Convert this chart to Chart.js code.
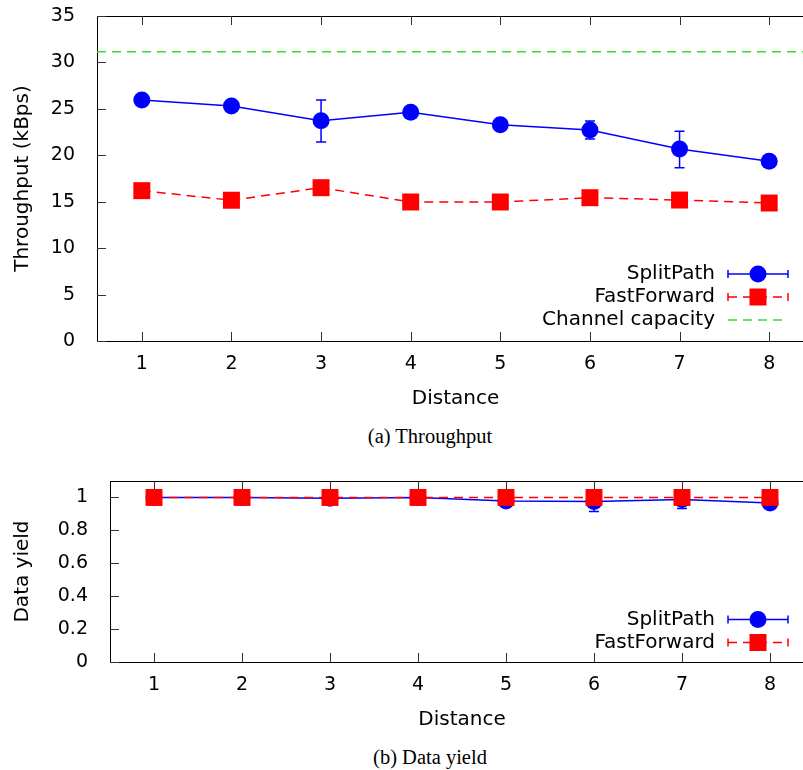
<!DOCTYPE html>
<html>
<head>
<meta charset="utf-8">
<script src="https://cdn.jsdelivr.net/npm/chart.js@4.4.1/dist/chart.umd.min.js"></script>
<style>
  html, body { margin: 0; padding: 0; background: #fff; width: 803px; height: 770px; overflow: hidden; }
  canvas { position: absolute; left: 0; }
  #tp-chart    { top: 0; width: 826px; height: 420px; }
  #yield-chart { top: 440px; width: 826px; height: 301px; }
  .caption {
    position: absolute; left: 0; width: 860px; text-align: center;
    font-family: "Liberation Serif", "Times New Roman", serif; font-size: 20.5px; color: #000;
    line-height: 24px;
  }
</style>
</head>
<body>
<canvas id="tp-chart" width="826" height="420"></canvas>
<div class="caption" style="top:424px">(a) Throughput</div>
<canvas id="yield-chart" width="826" height="301"></canvas>
<div class="caption" style="top:745px">(b) Data yield</div>

<script>
// ── Data ─────────────────────────────────────────────────────────
const DISTANCE      = [1, 2, 3, 4, 5, 6, 7, 8];
const X_MIN = 0.5, X_MAX = 8.5;

const TP_SPLIT      = [25.95, 25.3, 23.73, 24.63, 23.3, 22.72, 20.68, 19.35];
const TP_SPLIT_LO   = [25.95, 25.3, 21.43, 24.63, 23.3, 21.75, 18.66, 19.35];
const TP_SPLIT_HI   = [25.95, 25.3, 25.95, 24.63, 23.3, 23.69, 22.6, 19.35];
const TP_FAST       = [16.19, 15.16, 16.51, 14.97, 14.97, 15.43, 15.18, 14.86];
const CAPACITY      = 31.15;
const TP_TICKS      = [0, 5, 10, 15, 20, 25, 30, 35];

const YIELD_SPLIT    = [1, 1, 0.995, 1, 0.979, 0.976, 0.988, 0.966];
const YIELD_SPLIT_LO = [1, 1, 0.995, 1, 0.979, 0.915, 0.933, 0.966];
const YIELD_SPLIT_HI = [1, 1, 0.995, 1, 0.979, 1.0, 1.0, 0.966];
const YIELD_FAST     = [1, 1, 1, 1, 1, 1, 1, 1];
const YIELD_TICKS    = [0, 0.2, 0.4, 0.6, 0.8, 1];

const BLUE  = '#0000ff';
const RED   = '#ff0000';
const GREEN = '#33dd33';
const FONT  = 'DejaVu Sans';

Chart.defaults.font.family = FONT;
Chart.defaults.font.size   = 19;
Chart.defaults.color       = '#000';

const pts = (ys) => DISTANCE.map((d, i) => ({ x: d, y: ys[i] }));

// ── Plugins ─────────────────────────────────────────────────────
const frame = {
  id: 'frame',
  beforeDatasetsDraw(chart) {
    const { ctx, chartArea: a, scales: { x, y } } = chart;
    ctx.save();
    ctx.strokeStyle = '#000';
    ctx.lineWidth = 1;
    ctx.strokeRect(a.left + 0.5, a.top + 0.5, a.right - a.left, a.bottom - a.top);
    ctx.strokeStyle = '#333';
    ctx.beginPath();
    x.ticks.forEach(t => {
      const px = Math.round(x.getPixelForValue(t.value)) + 0.5;
      ctx.moveTo(px, a.bottom); ctx.lineTo(px, a.bottom - 9);
      ctx.moveTo(px, a.top);    ctx.lineTo(px, a.top + 9);
    });
    y.ticks.forEach(t => {
      const py = Math.round(y.getPixelForValue(t.value)) + 0.5;
      ctx.moveTo(a.left, py);  ctx.lineTo(a.left + 9, py);
      ctx.moveTo(a.right, py); ctx.lineTo(a.right - 9, py);
    });
    ctx.stroke();
    ctx.restore();
  }
};

const errorBars = {
  id: 'errorBars',
  beforeDatasetsDraw(chart, args, opts) {
    const { ctx, scales: { x, y } } = chart;
    ctx.save();
    ctx.strokeStyle = opts.color;
    ctx.lineWidth = 1.5;
    ctx.beginPath();
    DISTANCE.forEach((d, i) => {
      const px = x.getPixelForValue(d);
      const lo = y.getPixelForValue(opts.lo[i]);
      const hi = y.getPixelForValue(opts.hi[i]);
      if (Math.abs(lo - hi) < 1) return;
      ctx.moveTo(px, lo); ctx.lineTo(px, hi);
      ctx.moveTo(px - 5, lo); ctx.lineTo(px + 5, lo);
      ctx.moveTo(px - 5, hi); ctx.lineTo(px + 5, hi);
    });
    ctx.stroke();
    ctx.restore();
  }
};

// gnuplot-style key: label right-aligned, sample to the right
const keyBox = {
  id: 'keyBox',
  afterDatasetsDraw(chart, args, opts) {
    const { ctx, chartArea: a } = chart;
    const n = opts.items.length;
    ctx.save();
    ctx.font = `20px "${FONT}"`;
    ctx.textAlign = 'right';
    ctx.textBaseline = 'middle';
    opts.items.forEach((it, i) => {
      const yy = a.bottom - opts.bottom - (n - 1 - i) * 23;
      const tx = a.right - 99;
      const x0 = a.right - 86, x1 = a.right - 26, xm = (x0 + x1) / 2;
      ctx.fillStyle = '#000';
      ctx.fillText(it.label, tx, yy);
      ctx.strokeStyle = it.color;
      ctx.lineWidth = 1.5;
      ctx.setLineDash(it.dash || []);
      ctx.beginPath();
      ctx.moveTo(x0, yy); ctx.lineTo(x1, yy);
      ctx.stroke();
      ctx.setLineDash([]);
      if (it.err) {
        ctx.beginPath();
        ctx.moveTo(x0, yy - 4); ctx.lineTo(x0, yy + 4);
        ctx.moveTo(x1, yy - 4); ctx.lineTo(x1, yy + 4);
        ctx.stroke();
      }
      ctx.fillStyle = it.color;
      if (it.marker === 'circle') {
        ctx.beginPath(); ctx.arc(xm, yy, 8.5, 0, Math.PI * 2); ctx.fill();
      } else if (it.marker === 'rect') {
        ctx.fillRect(xm - 8.5, yy - 8.5, 17, 17);
      }
    });
    ctx.restore();
  }
};

// ── Chart builder ───────────────────────────────────────────────
function buildChart(canvasId, cfg) {
  return new Chart(document.getElementById(canvasId), {
    type: 'line',
    data: { datasets: cfg.datasets },
    options: {
      responsive: false,
      animation: false,
      events: [],
      layout: { padding: { top: cfg.padTop, left: 0, right: 0, bottom: 0 } },
      plugins: {
        legend:  { display: false },
        tooltip: { enabled: false },
        errorBars: cfg.errors,
        keyBox: { items: cfg.key, bottom: cfg.keyBottom }
      },
      scales: {
        x: {
          type: 'linear', min: X_MIN, max: X_MAX,
          afterBuildTicks: s => { s.ticks = DISTANCE.map(v => ({ value: v })); },
          afterFit: s => { s.height = 79; s.paddingLeft = 0; s.paddingRight = 0; },
          grid: { display: false }, border: { display: false },
          ticks: { padding: 4, color: '#000' },
          title: { display: true, text: 'Distance', color: '#000', font: { size: 20 }, padding: { top: 0, bottom: 9 } }
        },
        y: {
          type: 'linear', min: cfg.yMin, max: cfg.yMax,
          afterBuildTicks: s => { s.ticks = cfg.yTicks.map(v => ({ value: v })); },
          afterFit: s => { s.width = cfg.yWidth; s.paddingTop = 0; s.paddingBottom = 0; },
          grid: { display: false }, border: { display: false },
          ticks: { padding: 14, color: '#000', callback: v => String(v) },
          title: { display: true, text: cfg.yTitle, color: '#000', font: { size: 20 }, padding: { top: 11, bottom: 0 } }
        }
      }
    },
    plugins: [frame, errorBars, keyBox]
  });
}

const fastSet = (ys) => ({
  label: 'FastForward', data: pts(ys), order: 0,
  borderColor: RED, backgroundColor: RED, borderWidth: 1.5, borderDash: [9, 6],
  pointStyle: 'rect', pointRadius: 12, pointBorderWidth: 0, pointBackgroundColor: RED
});
const splitSet = (ys) => ({
  label: 'SplitPath', data: pts(ys), order: 1,
  borderColor: BLUE, backgroundColor: BLUE, borderWidth: 1.5,
  pointStyle: 'circle', pointRadius: 8.5, pointBorderWidth: 0, pointBackgroundColor: BLUE
});

buildChart('tp-chart', {
  padTop: 16, yWidth: 97, yMin: 0, yMax: 35, yTicks: TP_TICKS,
  yTitle: 'Throughput (kBps)', keyBottom: 21,
  datasets: [
    fastSet(TP_FAST),
    splitSet(TP_SPLIT),
    {
      label: 'Channel capacity', data: [{ x: X_MIN, y: CAPACITY }, { x: X_MAX, y: CAPACITY }], order: 2,
      borderColor: GREEN, borderWidth: 1.5, borderDash: [9, 6], pointRadius: 0
    }
  ],
  errors: { color: BLUE, lo: TP_SPLIT_LO, hi: TP_SPLIT_HI },
  key: [
    { label: 'SplitPath',        color: BLUE,  marker: 'circle', err: true },
    { label: 'FastForward',      color: RED,   marker: 'rect',   err: true, dash: [9, 6] },
    { label: 'Channel capacity', color: GREEN, dash: [9, 6] }
  ]
});

buildChart('yield-chart', {
  padTop: 41, yWidth: 110, yMin: 0, yMax: 1.1, yTicks: YIELD_TICKS,
  yTitle: 'Data yield', keyBottom: 19.5,
  datasets: [fastSet(YIELD_FAST), splitSet(YIELD_SPLIT)],
  errors: { color: BLUE, lo: YIELD_SPLIT_LO, hi: YIELD_SPLIT_HI },
  key: [
    { label: 'SplitPath',   color: BLUE, marker: 'circle', err: true },
    { label: 'FastForward', color: RED,  marker: 'rect',   err: true, dash: [9, 6] }
  ]
});
</script>
</body>
</html>
